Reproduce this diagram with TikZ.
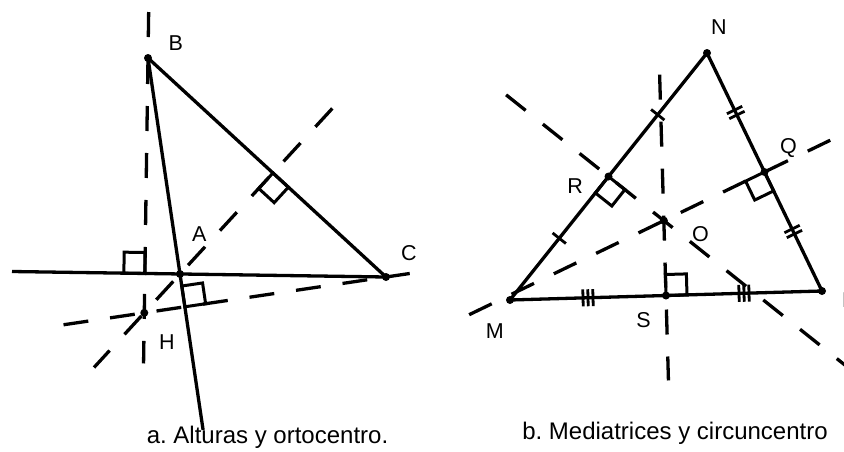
\documentclass[tikz,border=0pt]{standalone}
\usepackage{fontspec}
\setmainfont{Liberation Sans}
\usetikzlibrary{positioning,calc}
\frenchspacing

\begin{document}
\begin{tikzpicture}[x=1pt,y=-1pt,on grid,
  seg/.style={line width=3.3pt},
  dashline/.style={line width=3.3pt,dash pattern=on 25pt off 22pt},
  sq/.style={line width=3pt},
  hatch/.style={line width=2.8pt},
  vtx/.style={fill=black},
  lbl/.style={inner sep=0pt,text height=15pt,text depth=0pt,font=\fontsize{21.5}{25}\selectfont},
  title/.style={inner sep=0pt,anchor=base,font=\fontsize{24}{28}\selectfont}]
\useasboundingbox (0,0) rectangle (844,451);
\clip (0,0) rectangle (844,451);
\coordinate (B) at (148,58);
\coordinate (A) at (180,274);
\coordinate (C) at (386,277);
\coordinate (ACl) at (12,271.5);
\coordinate (Fb) at ($(A)!(B)!(C)$);
\coordinate (Fa) at ($(B)!(A)!(C)$);
\coordinate (Fc) at ($(A)!(C)!(B)$);
\coordinate (H) at (intersection of B--Fb and A--Fa);
\coordinate (Bt) at ($(B)!-46pt!(Fb)$);
\coordinate (Bb) at ($(Fb)!-90pt!(B)$);
\coordinate (At) at ($(A)!225pt!(Fa)$);
\coordinate (Ab) at ($(A)!-127pt!(Fa)$);
\coordinate (Ct) at ($(C)!-24pt!(Fc)$);
\coordinate (Cb) at ($(C)!326pt!(Fc)$);
\coordinate (BAb) at ($(B)!376pt!(A)$);
\coordinate (M) at (510,300);
\coordinate (N) at (707,53);
\coordinate (P) at (822,291);
\coordinate (S) at ($(M)!0.5!(P)$);
\coordinate (R) at ($(M)!0.5!(N)$);
\coordinate (Q) at ($(N)!0.5!(P)$);
\coordinate (St) at ($(S)!221pt!90:(P)$);
\coordinate (Sb) at ($(S)!85pt!-90:(P)$);
\coordinate (Rt) at ($(R)!131pt!90:(N)$);
\coordinate (Rb) at ($(R)!316pt!-90:(N)$);
\coordinate (Qt) at ($(Q)!90pt!90:(P)$);
\coordinate (Qb) at ($(Q)!328pt!-90:(P)$);
\coordinate (O) at (intersection of S--St and R--Rt);
\draw[seg] (ACl) -- (C);
\draw[seg] (B) -- (C);
\draw[seg] (B) -- (BAb);
\draw[dashline] (Bt) -- (Bb);
\draw[dashline] (At) -- (Ab);
\draw[dashline] (Cb) -- (Ct);
\draw[seg] (M) -- (N);
\draw[seg] (N) -- (P);
\draw[seg] (M) -- (P);
\draw[dashline] (St) -- (Sb);
\draw[dashline] (Rt) -- (Rb);
\draw[dashline] (Qb) -- (Qt);
\foreach \f/\u/\v in {Fb/B/ACl,Fa/C/A,Fc/A/C,S/P/St,R/M/Rb,Q/P/Qb}
  \draw[sq] (\f) -- ($(\f)!21pt!(\u)$) -- ($(\f)!21pt!(\u)+(\f)!21pt!(\v)-(\f)$) -- ($(\f)!21pt!(\v)$) -- cycle;
\foreach \a/\b/\t/\o in {M/N/0.25/0,M/N/0.75/0,N/P/0.25/-2.75,N/P/0.25/2.75,N/P/0.75/-2.75,N/P/0.75/2.75,M/P/0.25/-5,M/P/0.25/0,M/P/0.25/5,M/P/0.75/-5,M/P/0.75/0,M/P/0.75/5}
  \draw[hatch] ($(\a)!\t!(\b)!\o pt!(\b)!8.5pt!90:(\b)$) -- ($(\a)!\t!(\b)!\o pt!(\b)!8.5pt!-90:(\b)$);
\foreach \p in {A,B,C,H,M,N,P,Q,R,S,O}
  \fill[vtx] (\p) circle[radius=4pt];
\node[lbl,above right=7.5pt and 20.5pt of B] (labB) {B};
\node[lbl,above right=32.5pt and 12pt of A] (labA) {A};
\node[lbl,above right=16pt and 15pt of C] (labC) {C};
\node[lbl,below right=21pt and 14.7pt of H] (labH) {H};
\node[lbl,above right=18pt and 4pt of N] (labN) {N};
\node[lbl,below left=1.5pt and 25.5pt of R] (labR) {R};
\node[lbl,above right=18pt and 15.5pt of Q] (labQ) {Q};
\node[lbl,below right=5.5pt and 28pt of O] (labO) {O};
\node[lbl,below left=16.5pt and 15pt of S] (labS) {S};
\node[lbl,below left=23pt and 6pt of M] (labM) {M};
\node[lbl,below right=1pt and 20pt of P] (labP) {P};
\node[title] (capA) at (267.5,443) {a. Alturas y ortocentro.};
\node[title] (capB) at (675,439) {b. Mediatrices y circuncentro};
\end{tikzpicture}
\end{document}
